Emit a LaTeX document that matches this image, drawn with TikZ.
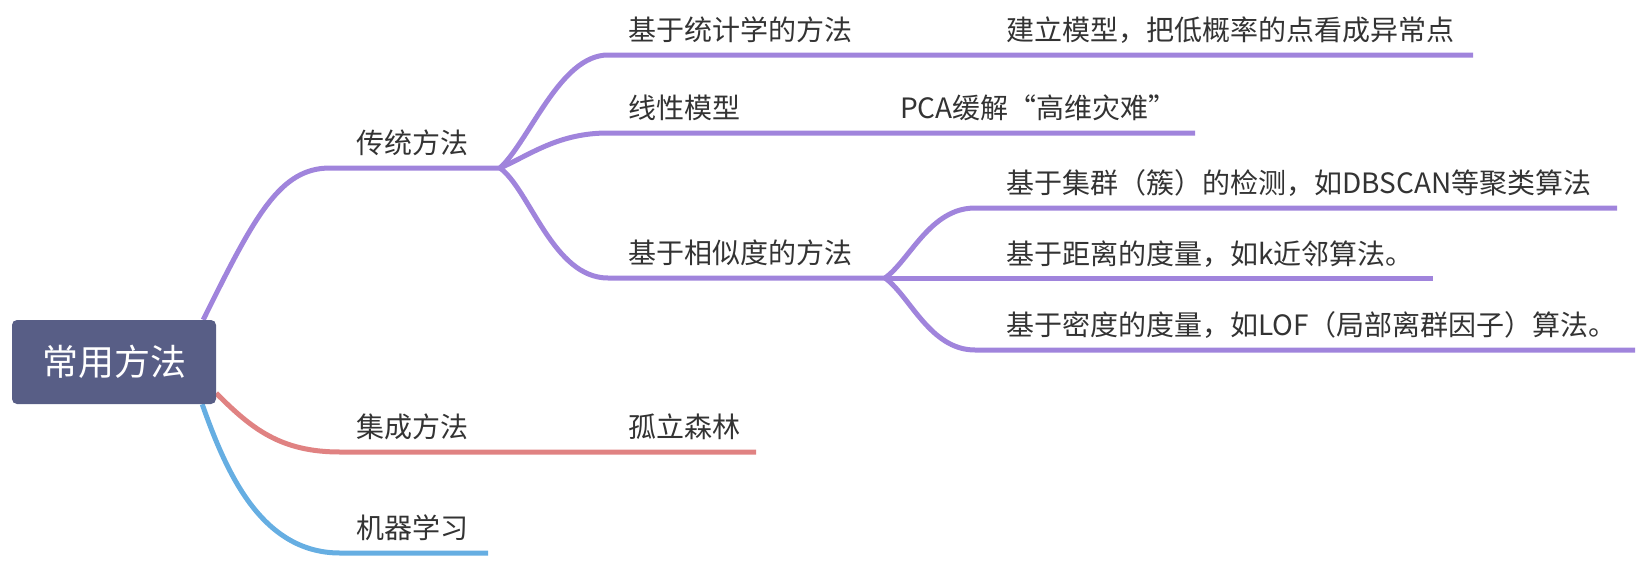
\documentclass[tikz,border=0pt]{standalone}
\usepackage{fontspec}
\setmainfont{Noto Sans CJK SC}
\usepackage{xcolor}
\usepackage{tikz}
\usetikzlibrary{calc, backgrounds}

\definecolor{rootcol}{HTML}{585E86}
\definecolor{purp}{HTML}{A084DC}
\definecolor{redb}{HTML}{E08282}
\definecolor{blueb}{HTML}{66AEE2}
\definecolor{textcol}{HTML}{333333}

\begin{document}
\begin{tikzpicture}[x=1pt, y=-1pt, line cap=round,
  rootbox/.style={fill=rootcol, rounded corners=5pt, minimum width=204pt, minimum height=84pt, text=white, font=\fontsize{36}{42}\selectfont},
  topic/.style={anchor=west, inner sep=0pt, text=textcol, font=\fontsize{28}{34}\selectfont},
  branch/.style={line width=5pt, draw=#1}]
\useasboundingbox (0,0) rectangle (1646,560);

\node[rootbox] (root) at (114,362) {常用方法};

% main topics
\node[topic] (trad) at (356,143) {传统方法};
\node[topic] (ens)  at (356,427) {集成方法};
\node[topic] (ml)   at (356,528) {机器学习};

% subtopics
\node[topic] (stat) at (628,30)  {基于统计学的方法};
\node[topic] (lin)  at (628,108) {线性模型};
\node[topic] (sim)  at (628,253) {基于相似度的方法};
\node[topic] (iso)  at (628,427) {孤立森林};

% leaves
\node[topic] (statleaf) at (1006,30)  {建立模型，把低概率的点看成异常点};
\node[topic] (linleaf)  at (900,108)  {PCA缓解“高维灾难”};
\node[topic] (clus)     at (1006,183) {基于集群（簇）的检测，如DBSCAN等聚类算法};
\node[topic] (dist)     at (1006,254) {基于距离的度量，如k近邻算法。};
\node[topic] (dens)     at (1006,325) {基于密度的度量，如LOF（局部离群因子）算法。};

\coordinate (tradL) at (330,168);  \coordinate (tradJ) at (500,168);
\coordinate (statL) at (608,55);   \coordinate (statR) at (1473,55);
\coordinate (linL)  at (608,133);  \coordinate (linR)  at (1195,133);
\coordinate (simL)  at (608,278);  \coordinate (simJ)  at (885,278);
\coordinate (clusL) at (975,208);  \coordinate (clusR) at (1617,208);
\coordinate (distR) at (1433,278);
\coordinate (densL) at (975,350);  \coordinate (densR) at (1635,350);
\coordinate (ensL)  at (340,452);  \coordinate (ensR)  at (756,452);
\coordinate (mlL)   at (340,553);  \coordinate (mlR)   at (488,553);

\begin{scope}[on background layer]
\draw[branch=purp] ($(root.north east)+(-13,0)$) .. controls +(52,-105) and +(-50,0) .. (tradL) -- (tradJ);
\draw[branch=purp] (tradJ) .. controls +(30,-28) and +(-48,0) .. (statL) -- (statR);
\draw[branch=purp] (tradJ) .. controls +(30,-13) and +(-50,0) .. (linL) -- (linR);
\draw[branch=purp] (tradJ) .. controls +(30,22) and +(-55,0) .. (simL) -- (simJ);
\draw[branch=purp] (simJ) .. controls +(25,-18) and +(-45,0) .. (clusL) -- (clusR);
\draw[branch=purp] (simJ) -- (distR);
\draw[branch=purp] (simJ) .. controls +(25,18) and +(-45,0) .. (densL) -- (densR);
\draw[branch=redb] ($(root.south east)+(0,-11)$) .. controls +(35,35) and +(-60,0) .. (ensL) -- (ensR);
\draw[branch=blueb] ($(root.south east)+(-14,0)$) .. controls +(23,65) and +(-80,0) .. (mlL) -- (mlR);
\end{scope}
\end{tikzpicture}
\end{document}
